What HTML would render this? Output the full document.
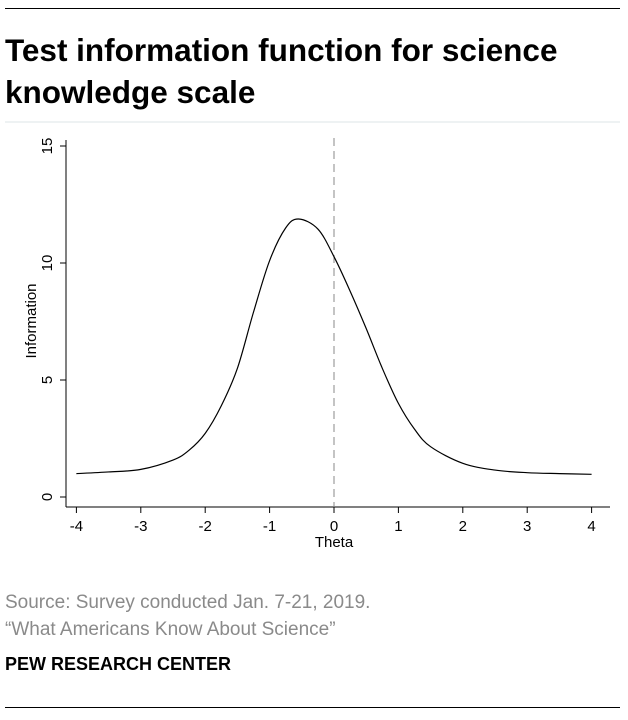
<!DOCTYPE html>
<html><head><meta charset="utf-8"><style>
body{margin:0;width:628px;height:720px;background:#fff;position:relative;overflow:hidden;font-family:"Liberation Sans",sans-serif}
.abs{position:absolute}
</style></head><body>
<div class="abs" style="left:5px;top:8px;width:615px;height:1px;background:#000"></div>
<div class="abs" style="left:5px;top:29px;width:620px;font-size:31.5px;font-weight:bold;line-height:42px;color:#000">Test information function for science knowledge scale</div>
<div class="abs" style="left:5px;top:121px;width:615px;height:2px;background:#eef2f3"></div>
<svg class="abs" style="left:0;top:0" width="628" height="720">
<g id="plot"></g>
</svg>
<div class="abs" style="left:5px;top:589px;font-size:19px;color:#8a8a8a;line-height:27px">Source: Survey conducted Jan. 7-21, 2019.<br>“What Americans Know About Science”</div>
<div class="abs" style="left:5px;top:654px;font-size:18px;font-weight:bold;color:#000">PEW RESEARCH CENTER</div>
<div class="abs" style="left:5px;top:707px;width:615px;height:1px;background:#000"></div>
<script>
const thetaValues=[-4,-3.5,-3,-2.5,-2.25,-2,-1.75,-1.5,-1.25,-1,-0.75,-0.55,-0.25,0,0.25,0.5,0.75,1,1.25,1.5,2,2.5,3,3.5,4];
const infoValues=[1.0,1.07,1.18,1.58,2.0,2.72,3.9,5.5,7.9,10.1,11.5,11.88,11.45,10.27,8.8,7.2,5.5,4.0,2.9,2.15,1.44,1.15,1.04,1.0,0.97];
const xTicks=[-4,-3,-2,-1,0,1,2,3,4];
const yTicks=[0,5,10,15];
const NS='http://www.w3.org/2000/svg';
const g=document.getElementById('plot');
const xs=v=>334+v*64.4;
const ys=v=>497-v*23.4;
function mk(t,a){const e=document.createElementNS(NS,t);for(const k in a)e.setAttribute(k,a[k]);g.appendChild(e);return e;}
let e;
e=mk('line',{x1:66,y1:140,x2:66,y2:507,stroke:'#000','stroke-width':1});


e=mk('line',{x1:66,y1:507,x2:610,y2:507,stroke:'#000','stroke-width':1});


yTicks.forEach(v=>{
 e=mk('line',{x1:60,y1:ys(v),x2:66,y2:ys(v),stroke:'#000'});
 
 
 e=mk('text',{x:0,y:0,transform:`translate(52,${ys(v)}) rotate(-90)`,'text-anchor':'middle','font-size':15,fill:'#000','font-family':'Liberation Sans, sans-serif'});
 e.textContent=v;
 
 
});
xTicks.forEach(v=>{
 e=mk('line',{x1:xs(v),y1:507,x2:xs(v),y2:513,stroke:'#000'});
 
 
 e=mk('text',{x:xs(v),y:531,'text-anchor':'middle','font-size':15,fill:'#000','font-family':'Liberation Sans, sans-serif'});
 e.textContent=v;
 
 
});
e=mk('text',{x:334,y:547,'text-anchor':'middle','font-size':15,fill:'#000','font-family':'Liberation Sans, sans-serif'});
e.textContent='Theta';


e=mk('text',{x:0,y:0,transform:'translate(36,321) rotate(-90)','text-anchor':'middle','font-size':15,fill:'#000','font-family':'Liberation Sans, sans-serif'});
e.textContent='Information';


e=mk('line',{x1:xs(0),y1:138,x2:xs(0),y2:507,stroke:'#888','stroke-dasharray':'8,5'});


const P=thetaValues.map((t,i)=>[xs(t),ys(infoValues[i])]);
let d=`M${P[0][0]},${P[0][1]}`;
for(let i=0;i<P.length-1;i++){
 const p0=P[i-1]||P[i],p1=P[i],p2=P[i+1],p3=P[i+2]||P[i+1];
 d+=` C${p1[0]+(p2[0]-p0[0])/6},${p1[1]+(p2[1]-p0[1])/6} ${p2[0]-(p3[0]-p1[0])/6},${p2[1]-(p3[1]-p1[1])/6} ${p2[0]},${p2[1]}`;
}
e=mk('path',{d:d,fill:'none',stroke:'#000','stroke-width':1.2});


</script>
</body></html>
